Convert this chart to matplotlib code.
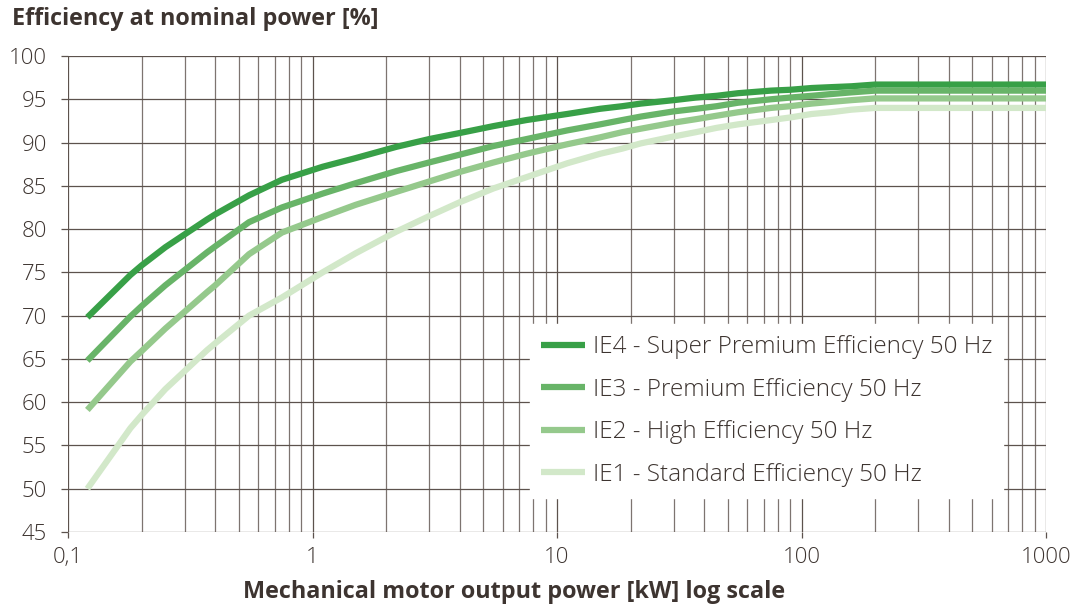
import matplotlib.pyplot as plt
from matplotlib.ticker import FixedLocator, LogLocator, NullFormatter

# IEC 60034-30-1, 4-pole, 50 Hz
power_kw = [0.12, 0.18, 0.2, 0.25, 0.37, 0.4, 0.55, 0.75, 1.1, 1.5, 2.2, 3, 4, 5.5,
            7.5, 11, 15, 18.5, 22, 30, 37, 45, 55, 75, 90, 110, 132, 160, 200, 1000]
ie1 = [50.0, 57.0, 58.5, 61.5, 66.0, 66.8, 70.0, 72.1, 75.0, 77.2, 79.7, 81.5, 83.1, 84.7,
       86.0, 87.6, 88.7, 89.3, 89.9, 90.7, 91.2, 91.7, 92.1, 92.6, 92.9, 93.3, 93.5, 93.8, 94.0, 94.0]
ie2 = [59.1, 64.7, 65.9, 68.5, 72.7, 73.5, 77.1, 79.6, 81.4, 82.8, 84.3, 85.5, 86.6, 87.7,
       88.7, 89.8, 90.6, 91.2, 91.6, 92.3, 92.7, 93.1, 93.5, 94.0, 94.2, 94.5, 94.7, 94.9, 95.1, 95.1]
ie3 = [64.8, 69.9, 71.1, 73.5, 77.3, 78.0, 80.8, 82.5, 84.1, 85.3, 86.7, 87.7, 88.6, 89.6,
       90.4, 91.4, 92.1, 92.6, 93.0, 93.6, 93.9, 94.2, 94.6, 95.0, 95.2, 95.4, 95.6, 95.8, 96.0, 96.0]
ie4 = [69.8, 74.7, 75.8, 77.9, 81.1, 81.7, 83.9, 85.7, 87.2, 88.2, 89.5, 90.4, 91.1, 91.9,
       92.6, 93.3, 93.9, 94.2, 94.5, 94.9, 95.2, 95.4, 95.7, 96.0, 96.1, 96.3, 96.4, 96.5, 96.7, 96.7]

labels = ["IE4 - Super Premium Efficiency 50 Hz",
          "IE3 - Premium Efficiency 50 Hz",
          "IE2 - High Efficiency 50 Hz",
          "IE1 - Standard Efficiency 50 Hz"]
colors = ["#38a047", "#68b468", "#95c98c", "#d2e8c9"]

x_ticks = [0.1, 1, 10, 100, 1000]
x_ticklabels = ["0,1", "1", "10", "100", "1000"]
y_ticks = list(range(45, 101, 5))

txt = "#3d3430"
grid = "#5c524d"

plt.rcParams['font.family'] = ['Open Sans', 'DejaVu Sans']

fig = plt.figure(figsize=(10.78, 6.07), dpi=100)
ax = fig.add_axes([68/1078, 75/607, 978/1078, 476/607])

for ys, c, lab in zip([ie4, ie3, ie2, ie1], colors, labels):
    ax.plot(power_kw, ys, color=c, lw=4.5, label=lab, solid_capstyle='butt', zorder=3)

ax.set_xscale('log')
ax.set_xlim(0.1, 1000)
ax.set_ylim(45, 100)
ax.xaxis.set_major_locator(FixedLocator(x_ticks))
ax.set_xticklabels(x_ticklabels)
ax.xaxis.set_minor_locator(LogLocator(base=10, subs=range(2, 10)))
ax.xaxis.set_minor_formatter(NullFormatter())
ax.set_yticks(y_ticks)

ax.grid(True, which='major', color=grid, lw=0.9)
ax.grid(True, which='minor', axis='x', color="#7d7470", lw=0.9)
for s in ax.spines.values():
    s.set_visible(False)

ax.tick_params(axis='y', length=5, width=0.9, color=grid, pad=10, labelsize=16, labelcolor=txt)
ax.tick_params(axis='x', which='major', length=4.5, width=0.9, color=grid, pad=6,
               labelsize=16, labelcolor=txt)
ax.tick_params(axis='x', which='minor', length=0)
for t in ax.get_xticklabels() + ax.get_yticklabels():
    t.set_fontweight('light')

leg = ax.legend(loc='lower right', bbox_to_anchor=(0.956, 0.072), fontsize=17.5,
                frameon=True, fancybox=False, framealpha=1, edgecolor='white',
                handlelength=1.8, handletextpad=0.33, labelspacing=0.76,
                borderpad=0.45, borderaxespad=0)
leg.set_zorder(5)
for t in leg.get_texts():
    t.set_color(txt)
    t.set_fontweight('light')

fig.text(12/1078, 1 - 19/607, "Efficiency at nominal power [%]", fontsize=16.8,
         fontweight='bold', color=txt, ha='left', va='center')
fig.text(514/1078, 1 - 592/607, "Mechanical motor output power [kW] log scale", fontsize=16.8,
         fontweight='bold', color=txt, ha='center', va='center')

fig.savefig("out.png", dpi=100)
